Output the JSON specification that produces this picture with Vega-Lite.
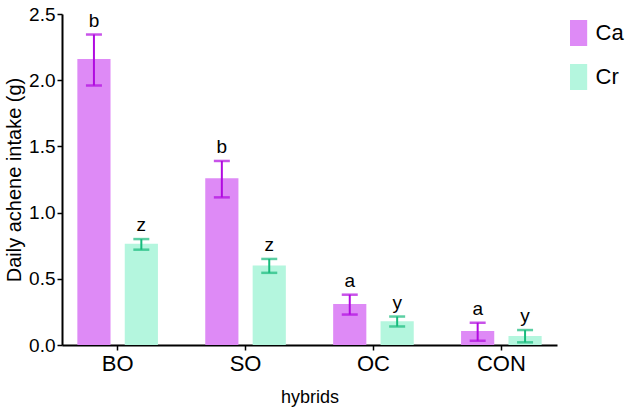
{
  "$schema": "https://vega.github.io/schema/vega-lite/v6.json",
  "width": 495,
  "height": 331,
  "autosize": {"type": "none"},
  "padding": {"left": 62, "top": 14, "right": 70, "bottom": 70},
  "config": {
    "font": "Liberation Sans",
    "view": {"stroke": null},
    "axis": {
      "grid": false,
      "domainColor": "black",
      "domainWidth": 2,
      "tickColor": "black",
      "tickWidth": 1.5,
      "tickSize": 5,
      "labelColor": "black",
      "titleColor": "black",
      "titleFontWeight": "normal"
    }
  },
  "data": {
    "values": [
      {"hybrid": "BO", "group": "Ca", "mean": 2.16, "lo": 1.96, "hi": 2.345, "letter": "b"},
      {"hybrid": "BO", "group": "Cr", "mean": 0.765, "lo": 0.72, "hi": 0.8, "letter": "z"},
      {"hybrid": "SO", "group": "Ca", "mean": 1.26, "lo": 1.115, "hi": 1.39, "letter": "b"},
      {"hybrid": "SO", "group": "Cr", "mean": 0.6, "lo": 0.545, "hi": 0.65, "letter": "z"},
      {"hybrid": "OC", "group": "Ca", "mean": 0.31, "lo": 0.23, "hi": 0.38, "letter": "a"},
      {"hybrid": "OC", "group": "Cr", "mean": 0.18, "lo": 0.14, "hi": 0.215, "letter": "y"},
      {"hybrid": "CON", "group": "Ca", "mean": 0.105, "lo": 0.032, "hi": 0.168, "letter": "a"},
      {"hybrid": "CON", "group": "Cr", "mean": 0.068, "lo": 0.02, "hi": 0.113, "letter": "y"}
    ]
  },
  "encoding": {
    "x": {
      "field": "hybrid",
      "type": "nominal",
      "sort": ["BO", "SO", "OC", "CON"],
      "scale": {"paddingInner": 0.37, "paddingOuter": 0.12},
      "axis": {
        "labelAngle": 0,
        "title": "hybrids",
        "labelFontSize": 22,
        "labelPadding": 3,
        "titleFontSize": 18,
        "titlePadding": 14
      }
    },
    "xOffset": {
      "field": "group",
      "type": "nominal",
      "sort": ["Ca", "Cr"],
      "scale": {"paddingInner": 0.3, "paddingOuter": 0}
    }
  },
  "layer": [
    {
      "mark": {"type": "bar"},
      "encoding": {
        "y": {
          "field": "mean",
          "type": "quantitative",
          "scale": {"domain": [0, 2.5], "nice": false},
          "axis": {
            "values": [0, 0.5, 1, 1.5, 2, 2.5],
            "format": ".1f",
            "title": "Daily achene intake (g)",
            "labelFontSize": 19,
            "labelPadding": 2,
            "titleFontSize": 20,
            "titlePadding": 4
          }
        },
        "color": {
          "field": "group",
          "type": "nominal",
          "scale": {"domain": ["Ca", "Cr"], "range": ["#DE8AF6", "#B4F6DE"]},
          "legend": {
            "title": null,
            "orient": "none",
            "legendX": 503.6,
            "legendY": 6,
            "padding": 0,
            "symbolType": "M-0.66,-1H0.66V1H-0.66Z",
            "symbolSize": 676,
            "symbolStrokeWidth": 0,
            "labelFontSize": 22,
            "labelColor": "black",
            "labelOffset": 4,
            "rowPadding": 18
          }
        }
      }
    },
    {
      "mark": {"type": "rule", "strokeWidth": 2},
      "encoding": {
        "y": {"field": "lo", "type": "quantitative"},
        "y2": {"field": "hi"},
        "color": {"condition": {"test": "datum.group === 'Ca'", "value": "#B10AE0"}, "value": "#17BB7C"}
      }
    },
    {
      "mark": {"type": "tick", "size": 16, "thickness": 2.5},
      "encoding": {
        "y": {"field": "lo", "type": "quantitative"},
        "color": {"condition": {"test": "datum.group === 'Ca'", "value": "#B10AE0"}, "value": "#17BB7C"}
      }
    },
    {
      "mark": {"type": "tick", "size": 16, "thickness": 2.5},
      "encoding": {
        "y": {"field": "hi", "type": "quantitative"},
        "color": {"condition": {"test": "datum.group === 'Ca'", "value": "#B10AE0"}, "value": "#17BB7C"}
      }
    },
    {
      "mark": {"type": "text", "fontSize": 19, "baseline": "alphabetic", "dy": -8, "color": "black"},
      "encoding": {
        "y": {"field": "hi", "type": "quantitative"},
        "text": {"field": "letter"}
      }
    }
  ]
}
